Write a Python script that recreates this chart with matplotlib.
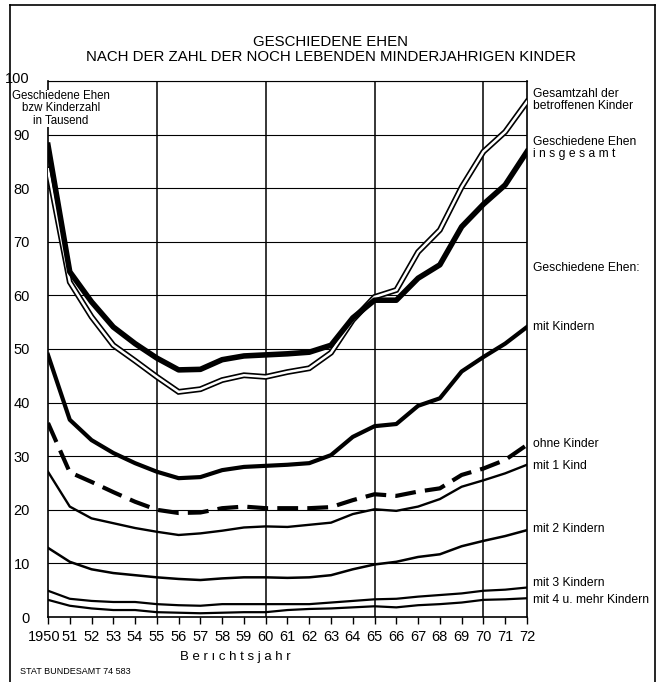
import matplotlib.pyplot as plt
from matplotlib.lines import Line2D
from matplotlib.transforms import ScaledTranslation

plt.rcParams['font.family'] = ['Liberation Sans', 'DejaVu Sans']

jahre = list(range(1950, 1973))
jahr_labels = ['1950'] + [str(j % 100) for j in jahre[1:]]

kinder_gesamt = [83.5, 62.5, 56, 50.7, 47.8, 44.8, 42, 42.5, 44.2, 45.1, 44.8,
                 45.7, 46.4, 49.3, 55.4, 59.7, 61, 68.1, 72.2, 80.2, 86.8, 90.5, 96.1]
ehen_gesamt = [88, 64.4, 58.8, 54.1, 51, 48.3, 46.1, 46.2, 48, 48.7, 48.9,
               49.1, 49.4, 50.7, 55.8, 59.1, 59.1, 63.2, 65.7, 72.8, 77, 80.6, 86.8]
mit_kindern = [48.9, 36.8, 33, 30.6, 28.7, 27.1, 25.9, 26.1, 27.4, 28, 28.2,
               28.4, 28.7, 30.2, 33.6, 35.6, 36, 39.4, 40.8, 45.8, 48.5, 51, 54.1]
ohne_kinder = [36.2, 27, 25.2, 23.3, 21.5, 20, 19.4, 19.5, 20.3, 20.6, 20.3,
               20.3, 20.3, 20.5, 21.8, 22.9, 22.6, 23.4, 24, 26.5, 27.7, 29.3, 32.1]
mit_1 = [27.1, 20.6, 18.4, 17.5, 16.6, 15.9, 15.3, 15.6, 16.1, 16.7, 16.9,
         16.8, 17.2, 17.6, 19.2, 20.1, 19.8, 20.6, 22, 24.3, 25.5, 26.8, 28.4]
mit_2 = [12.9, 10.3, 8.9, 8.2, 7.8, 7.4, 7.1, 6.9, 7.2, 7.4, 7.4,
         7.3, 7.4, 7.8, 8.9, 9.8, 10.3, 11.2, 11.7, 13.2, 14.2, 15.1, 16.2]
mit_3 = [4.9, 3.4, 3, 2.8, 2.8, 2.4, 2.2, 2.1, 2.4, 2.4, 2.4,
         2.4, 2.4, 2.7, 3, 3.3, 3.4, 3.8, 4.1, 4.4, 4.9, 5.1, 5.5]
mit_4 = [3.2, 2.1, 1.6, 1.3, 1.3, 0.9, 0.8, 0.7, 0.8, 0.9, 0.9,
         1.3, 1.5, 1.6, 1.8, 2, 1.8, 2.2, 2.4, 2.7, 3.2, 3.3, 3.5]

fig = plt.figure(figsize=(6.61, 6.82), dpi=100)
ax = fig.add_axes([0.0726, 0.0953, 0.7246, 0.786])

# grid
for y in range(10, 101, 10):
    ax.axhline(y, color='black', lw=0.8, zorder=1)
for x in [1955, 1960, 1965, 1970]:
    ax.axvline(x, color='black', lw=1.1, zorder=1)

# curves
ax.plot(jahre, kinder_gesamt, color='black', lw=4.2, solid_joinstyle='miter', zorder=3)
ax.plot(jahre, kinder_gesamt, color='white', lw=1.8, solid_joinstyle='miter', zorder=4)
ax.plot(jahre, ehen_gesamt, color='black', lw=4.0, zorder=5)
ax.plot(jahre, mit_kindern, color='black', lw=3.0, zorder=3)
ax.plot(jahre, ohne_kinder, color='black', lw=3.0, dashes=(5, 2.2), zorder=3)
ax.plot(jahre, mit_1, color='black', lw=1.7, zorder=3)
ax.plot(jahre, mit_2, color='black', lw=1.8, zorder=3)
ax.plot(jahre, mit_3, color='black', lw=1.6, zorder=3)
ax.plot(jahre, mit_4, color='black', lw=1.6, zorder=3)

ax.set_xlim(1950, 1972)
ax.set_ylim(0, 100)
ax.set_xticks(jahre)
ax.set_xticklabels(jahr_labels, fontsize=10.5)
ax.set_yticks(range(0, 101, 10))
ax.set_yticklabels([str(v) for v in range(0, 101, 10)], fontsize=10.5)
ax.tick_params(axis='x', direction='out', length=5, width=1, pad=4)
ax.tick_params(axis='y', length=0, pad=13)
for s in ax.spines.values():
    s.set_linewidth(1.2)
ax.spines['top'].set_linewidth(0.8)
# nudge "1950" left so it clears "51", and "100" up so it clears the unit text
first = ax.get_xticklabels()[0]
first.set_transform(first.get_transform() + ScaledTranslation(-4 / 100, 0, fig.dpi_scale_trans))
top = ax.get_yticklabels()[-1]
top.set_transform(top.get_transform() + ScaledTranslation(0, 3 / 100, fig.dpi_scale_trans))

# y unit text
fig.text(0.092, 0.868, 'Geschiedene Ehen\nbzw Kinderzahl\nin Tausend',
         ha='center', va='top', fontsize=8.3, linespacing=1.05, zorder=6,
         bbox=dict(facecolor='white', edgecolor='none', pad=0.1))

# right labels
rx = 1972.3
labels = [
    (96.5, 'Gesamtzahl der\nbetroffenen Kinder'),
    (87.5, 'Geschiedene Ehen\ni n s g e s a m t'),
    (65.1, 'Geschiedene Ehen:'),
    (54.1, 'mit Kindern'),
    (32.3, 'ohne Kinder'),
    (28.2, 'mit 1 Kind'),
    (16.4, 'mit 2 Kindern'),
    (6.3, 'mit 3 Kindern'),
    (3.2, 'mit 4 u. mehr Kindern'),
]
for y, t in labels:
    ax.text(rx, y, t, ha='left', va='center', fontsize=8.7, linespacing=1.0, clip_on=False)

# title
fig.text(0.5, 0.938, 'GESCHIEDENE EHEN', ha='center', va='center', fontsize=10.8)
fig.text(0.5, 0.916, 'NACH DER ZAHL DER NOCH LEBENDEN MINDERJAHRIGEN KINDER',
         ha='center', va='center', fontsize=10.8)

fig.text(0.356, 0.037, 'B e r ı c h t s j a h r', ha='center', va='center', fontsize=9.5)
fig.text(0.03, 0.016, 'STAT BUNDESAMT 74 583', ha='left', va='center', fontsize=6.5)

# outer frame
fig.add_artist(Line2D([0.015, 0.015], [0.0, 0.993], color='black', lw=1.2, transform=fig.transFigure))
fig.add_artist(Line2D([0.991, 0.991], [0.0, 0.993], color='black', lw=1.2, transform=fig.transFigure))
fig.add_artist(Line2D([0.015, 0.991], [0.993, 0.993], color='black', lw=1.2, transform=fig.transFigure))

fig.savefig('out.png', dpi=100)
